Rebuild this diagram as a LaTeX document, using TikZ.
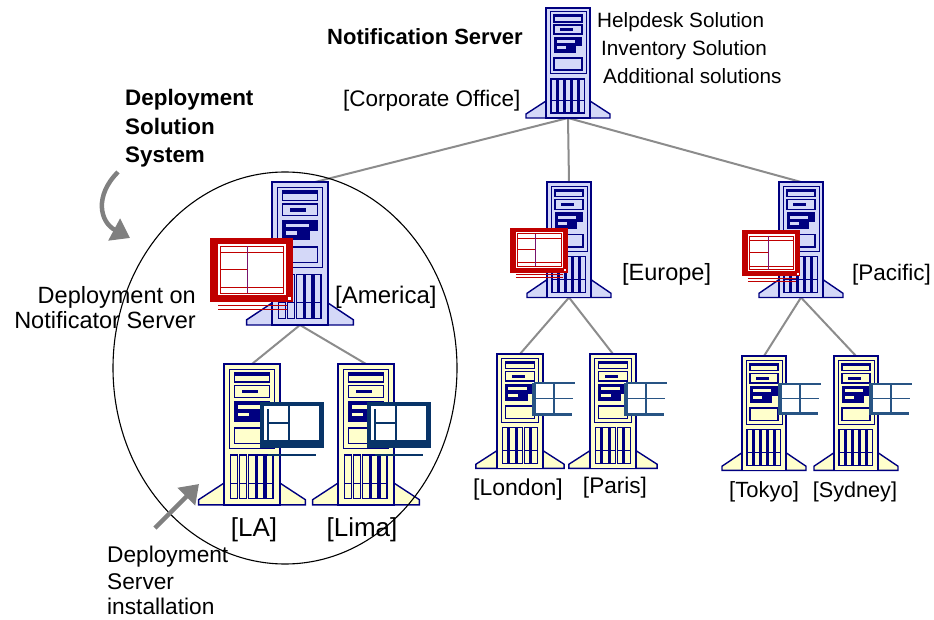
\documentclass[tikz,border=0pt]{standalone}
\usepackage{fontspec}
\setmainfont{Liberation Sans}
\usetikzlibrary{arrows.meta}
\pgfdeclarelayer{background}
\pgfsetlayers{background,main}

\definecolor{navy}{RGB}{0,0,128}
\definecolor{srvblue}{RGB}{212,216,248}
\definecolor{srvcream}{RGB}{255,255,204}
\definecolor{monred}{RGB}{192,0,0}
\definecolor{monviolet}{RGB}{120,20,110}
\definecolor{monteal}{RGB}{8,52,104}
\definecolor{monsmall}{RGB}{40,84,132}
\definecolor{linkgray}{RGB}{140,140,140}
\definecolor{arrowgray}{RGB}{128,128,128}

\tikzset{
  x=1pt, y=-1pt,
  link/.style={draw=linkgray, line width=2},
  pointer/.style={draw=arrowgray, line width=4.5, -{Triangle[length=18pt,width=24pt]}},
  lbl/.style={inner sep=0, font=\fontsize{#1}{#1}\selectfont},
  lbl/.default=22.5,
  boldlbl/.style={inner sep=0, font=\fontsize{#1}{#1}\selectfont\bfseries},
  boldlbl/.default=22.4,
  % tower server; argument = body colour
  pics/tower/.style={code={
    \draw[navy, line width=1.4, fill=#1] (-42,110) -- (-42,106) -- (-22,93) -- (22,93) -- (42,106) -- (42,110) -- cycle;
    \draw[navy, line width=1.6, fill=#1] (-22,0) rectangle (22,110);
    \draw[navy, line width=1] (-18,4) rectangle (18,66);
    % drive bays
    \draw[navy, line width=1.2] (-14,7) rectangle (14,14);
    \fill[navy] (-14,7) rectangle (14,9.5);
    \draw[navy, line width=1.2] (-14,17) rectangle (14,26);
    \fill[navy] (-8,20) rectangle (5,23);
    \fill[navy] (-14,29) rectangle (14,45);
    \fill[#1] (-11,32) rectangle (7,35);
    \fill[#1] (-11,38) rectangle (-2,41);
    \fill[#1] (8,38) rectangle (14,45);
    % front panel
    \draw[navy, line width=1.2] (-14,50) rectangle (14,62);
    % vent columns
    \foreach \c in {-17,-10,-3,4,11}{
      \draw[navy, line width=1.3, fill=#1] (\c,71) rectangle (\c+5.5,105);
      \draw[navy, line width=1] (\c,93) -- (\c+5.5,93);
    }
    \coordinate (-top) at (0,0);
    \coordinate (-tr) at (12,0);
    \coordinate (-bot) at (0,110);
  }},
  % red console monitor
  pics/redmon/.style={code={
    \fill[monred] (0,0) rectangle (80,62);
    \fill[white] (8,6) rectangle (73,55);
    \draw[monred, line width=0.9] (10,8) rectangle (71,53);
    \draw[monred, line width=0.9] (10,14) -- (71,14);
    \draw[monred, line width=0.9] (10,48) -- (71,48);
    \draw[monred, line width=0.9] (10,30) -- (36,30);
    \draw[monviolet, line width=0.9] (36,8) -- (36,53);
    \fill[white] (75,57) rectangle (78,60);
    \draw[monred, line width=1] (8,65) -- (74,65);
    \draw[monred, line width=1] (8,69) -- (74,69);
  }},
  % dark blue desktop monitor
  pics/tealmon/.style={code={
    \fill[monteal] (0,0) rectangle (64,46);
    \fill[white] (4,4) rectangle (59,38);
    \draw[monteal, line width=1.2] (8,7) -- (8,38);
    \draw[monteal, line width=1.2] (29,4) -- (29,38);
    \draw[monteal, line width=1.2] (8,21) -- (29,21);
    \draw[monteal, line width=1.2] (8,53) -- (56,53);
  }},
  % small outline monitor
  pics/smallmon/.style={code={
    \fill[white] (0,0) rectangle (43,34);
    \draw[monsmall, line width=1.2] (2,1) -- (43,1);
    \fill[monsmall] (0,0.5) rectangle (3.5,34);
    \fill[monsmall] (0,30.5) rectangle (40,34);
    \draw[monsmall, line width=1.2] (22,1) -- (22,31);
    \draw[monsmall, line width=1.2] (3,16.5) -- (41,16.5);
  }},
}

\begin{document}
\begin{tikzpicture}
\useasboundingbox (0,0) rectangle (934,620);

% servers
\pic (ns) at (568,8) {tower=srvblue};
\pic[xscale=1.27, yscale=1.3] (am) at (300,182) {tower=srvblue};
\pic[yscale=1.05] (eu) at (569,182) {tower=srvblue};
\pic[yscale=1.05] (pa) at (801,182) {tower=srvblue};
\pic[xscale=1.27, yscale=1.28] (la) at (252,364) {tower=srvcream};
\pic[xscale=1.27, yscale=1.28] (li) at (366,364) {tower=srvcream};
\pic[xscale=1.05, yscale=1.04] (lo) at (520,354) {tower=srvcream};
\pic[xscale=1.05, yscale=1.04] (pr) at (613,354) {tower=srvcream};
\pic[yscale=1.04] (to) at (764,356) {tower=srvcream};
\pic[yscale=1.04] (sy) at (856,356) {tower=srvcream};

% monitors
\pic[scale=1.04] (amm) at (210,238) {redmon};
\pic[scale=0.72] (eum) at (510,228) {redmon};
\pic[xscale=0.73, yscale=0.75] (pam) at (742,230) {redmon};
\pic (lam) at (260,402) {tealmon};
\pic (lim) at (367,402) {tealmon};
\pic (lom) at (532,382) {smallmon};
\pic (prm) at (624,382) {smallmon};
\pic[yscale=0.95] (tom) at (778,383) {smallmon};
\pic[yscale=0.95] (sym) at (869,383) {smallmon};

% network links
\begin{pgfonlayer}{background}
\draw[link] (ns-bot) -- (am-tr);
\draw[link] (ns-bot) -- (eu-top);
\draw[link] (ns-bot) -- (pa-top);
\draw[link] (am-bot) -- (la-top);
\draw[link] (am-bot) -- (li-top);
\draw[link] (eu-bot) -- (lo-top);
\draw[link] (eu-bot) -- (pr-top);
\draw[link] (pa-bot) -- (to-top);
\draw[link] (pa-bot) -- (sy-top);
\end{pgfonlayer}

% deployment solution region
\draw[black, line width=1.1] (285,368) ellipse [x radius=172, y radius=196];

% pointers
\coordinate (p1s) at (118,172);
\coordinate (p1e) at (130,238);
\draw[pointer] (p1s) .. controls (94,196) and (100,222) .. (p1e);
\coordinate (p2s) at (155,528);
\coordinate (p2e) at (199,484);
\draw[pointer] (p2s) -- (p2e);

% labels
\node[boldlbl=22, anchor=base west] (t-ns) at (327,45) {Notification Server};
\node[lbl=22.5, anchor=base west] (t-corp) at (343,107) {[Corporate Office]};
\node[lbl=20.7, anchor=base west] (t-help) at (597,28) {Helpdesk Solution};
\node[lbl=20.7, anchor=base west] (t-inv) at (601,56) {Inventory Solution};
\node[lbl=20.7, anchor=base west] (t-add) at (603,84) {Additional solutions};

\node[boldlbl, anchor=base west] (t-dss1) at (125,106) {Deployment};
\node[boldlbl, anchor=base west] (t-dss2) at (125,135) {Solution};
\node[boldlbl, anchor=base west] (t-dss3) at (125,163) {System};

\node[lbl=23.5, anchor=base east] (t-don1) at (196,303) {Deployment on};
\node[lbl=23.5, anchor=base east] (t-don2) at (196,328) {Notificator Server};

\node[lbl=24, anchor=base west] (t-am) at (335,303) {[America]};
\node[lbl=23.5, anchor=base west] (t-eu) at (622,281) {[Europe]};
\node[lbl=22.5, anchor=base west] (t-pa) at (852,281) {[Pacific]};

\node[lbl=26, anchor=base] (t-la) at (254,536) {[LA]};
\node[lbl=26, anchor=base] (t-li) at (362,536) {[Lima]};
\node[lbl=23, anchor=base] (t-lo) at (518,495) {[London]};
\node[lbl=22.6, anchor=base] (t-pr) at (615,493) {[Paris]};
\node[lbl=22, anchor=base] (t-to) at (764,497) {[Tokyo]};
\node[lbl=21.6, anchor=base] (t-sy) at (855,497) {[Sydney]};

\node[lbl=22.7, anchor=base west] (t-dsi1) at (107,562) {Deployment};
\node[lbl=22.7, anchor=base west] (t-dsi2) at (107,589) {Server};
\node[lbl=22.7, anchor=base west] (t-dsi3) at (107,614) {installation};
\end{tikzpicture}
\end{document}
